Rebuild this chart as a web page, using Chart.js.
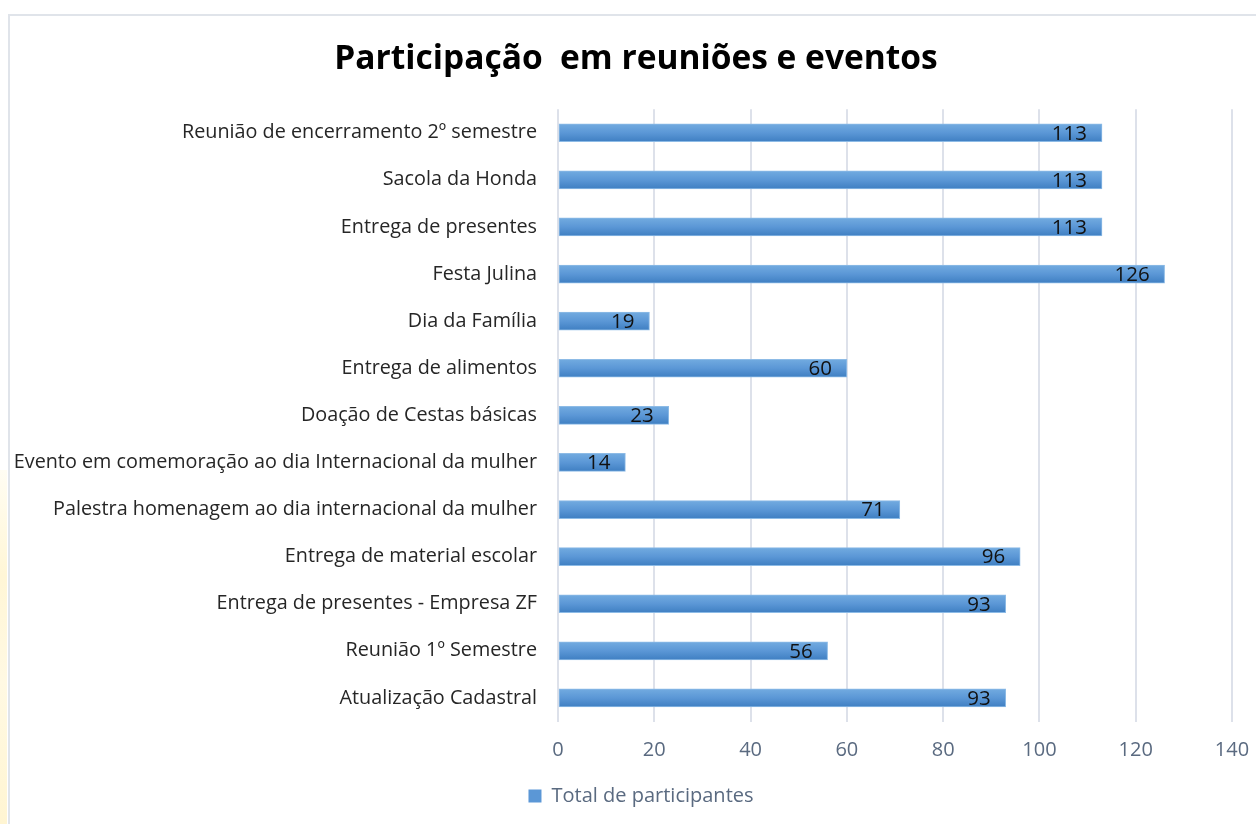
<!DOCTYPE html>
<html>
<head>
<meta charset="utf-8">
<script src="https://cdn.jsdelivr.net/npm/chart.js@4.4.0/dist/chart.umd.min.js"></script>
<style>
  html, body { margin: 0; padding: 0; background: #fff; }
  #wrap { position: relative; width: 1256px; height: 824px; overflow: hidden; }
  #strip { position: absolute; left: 0; top: 470px; width: 7px; height: 354px;
           background: linear-gradient(#fffdf3, #fff6d6 30%, #fff9e3 60%, #fff5d2); }
  #frame { position: absolute; left: 8px; top: 14px; width: 1300px; height: 900px;
           border: 2px solid #e0e4ea; pointer-events: none; }
  canvas { position: absolute; left: 0; top: 0; }
</style>
</head>
<body>
<div id="wrap">
  <div id="strip"></div>
  <div id="frame"></div>
  <canvas id="chart" width="1256" height="824"></canvas>
</div>
<script>
const categories = [
  "Reunião de encerramento 2º semestre",
  "Sacola da Honda",
  "Entrega de presentes",
  "Festa Julina",
  "Dia da Família",
  "Entrega de alimentos",
  "Doação de Cestas básicas",
  "Evento em comemoração ao dia Internacional da mulher",
  "Palestra homenagem ao dia internacional da mulher",
  "Entrega de material escolar",
  "Entrega de presentes - Empresa ZF",
  "Reunião 1º Semestre",
  "Atualização Cadastral"
];
const participantes = [113, 113, 113, 126, 19, 60, 23, 14, 71, 96, 93, 56, 93];
const seriesName = "Total de participantes";
const chartTitle = "Participação  em reuniões e eventos";

const FONT = "'Open Sans', Calibri, sans-serif";

// rótulos de valor dentro da barra, alinhados ao fim
const valueLabels = {
  id: "valueLabels",
  afterDatasetsDraw(chart) {
    const ctx = chart.ctx;
    const meta = chart.getDatasetMeta(0);
    ctx.save();
    ctx.font = "20.5px " + FONT;
    ctx.fillStyle = "#111";
    ctx.textAlign = "right";
    ctx.textBaseline = "middle";
    meta.data.forEach((bar, i) => {
      ctx.fillText(String(participantes[i]), bar.x - 15, bar.y + 1);
    });
    ctx.restore();
  }
};

// título e legenda centralizados um pouco à direita, como no original
const shiftBlocks = {
  id: "shiftBlocks",
  afterLayout(chart) {
    if (chart.titleBlock) { chart.titleBlock.left += 16; chart.titleBlock.right += 16; }
    if (chart.legend) { chart.legend.left += 21; chart.legend.right += 21; }
  }
};

function barGradient(context) {
  const chart = context.chart;
  const yScale = chart.scales && chart.scales.y;
  if (!yScale || context.dataIndex === undefined) return "#5b9bd5";
  const cy = yScale.getPixelForValue(context.dataIndex);
  if (!isFinite(cy)) return "#5b9bd5";
  const g = chart.ctx.createLinearGradient(0, cy - 9, 0, cy + 9);
  g.addColorStop(0, "#72abe0");
  g.addColorStop(0.5, "#5b97d6");
  g.addColorStop(1, "#3f7fc2");
  return g;
}

new Chart(document.getElementById("chart"), {
  type: "bar",
  data: {
    labels: categories,
    datasets: [{
      label: seriesName,
      data: participantes,
      backgroundColor: barGradient,
      borderColor: "#8dbbe6",
      borderWidth: 1,
      borderSkipped: false,
      barThickness: 18
    }]
  },
  plugins: [valueLabels, shiftBlocks],
  options: {
    indexAxis: "y",
    responsive: false,
    animation: false,
    layout: { padding: { left: 8, right: 24, top: 0, bottom: 8 } },
    scales: {
      x: {
        min: 0,
        max: 140,
        ticks: { stepSize: 20, color: "#5a6a80", font: { family: FONT, size: 20 }, padding: 17 },
        grid: { color: "#dde1ea", lineWidth: 2, drawTicks: false },
        border: { display: false },
        afterFit(scale) {
          scale.height = 54.5;
          scale.paddingLeft = 0;
          scale.paddingRight = 0;
        }
      },
      y: {
        ticks: { color: "#262626", font: { family: FONT, size: 19.8 }, padding: 21 },
        grid: { display: false, drawTicks: false },
        border: { display: false },
        afterFit(scale) { scale.width = 550; }
      }
    },
    plugins: {
      title: {
        display: true,
        text: chartTitle,
        color: "#000",
        font: { family: FONT, size: 33.5, weight: "bold" },
        padding: { top: 39, bottom: 30 }
      },
      legend: {
        position: "bottom",
        labels: {
          color: "#5a6a80",
          font: { family: FONT, size: 20 },
          boxWidth: 13,
          boxHeight: 13,
          padding: 10,
          generateLabels(chart) {
            return [{ text: seriesName, fillStyle: "#5b97d6", strokeStyle: "#5b97d6",
                      lineWidth: 0, fontColor: "#5a6a80", datasetIndex: 0 }];
          }
        }
      },
      tooltip: { enabled: false }
    }
  }
});
</script>
</body>
</html>
